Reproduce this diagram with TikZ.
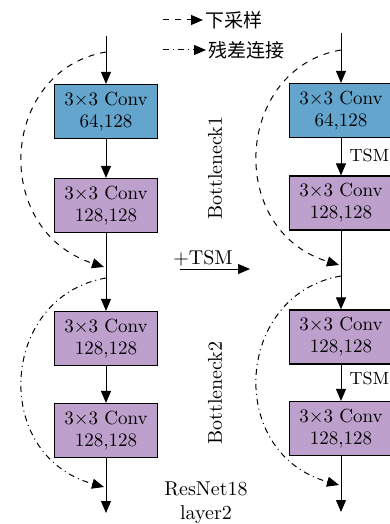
\documentclass[tikz,border=0pt]{standalone}
\usepackage{fontspec}
\newfontfamily\cjk{Noto Sans CJK SC}
\usetikzlibrary{arrows.meta}
\definecolor{convblue}{RGB}{100,165,205}
\definecolor{convpurple}{RGB}{190,160,205}

\begin{document}
\begin{tikzpicture}[x=0.5pt,y=-0.5pt,>={Triangle[length=6pt,width=5pt]},line width=0.5pt,
  conv/.style={draw, line width=0.6pt, minimum width=51.5pt, minimum height=27pt, inner sep=1pt, align=center, font=\fontsize{9.5}{11}\selectfont},
  first/.style={conv, fill=convblue},
  other/.style={conv, fill=convpurple},
  down/.style={dashed, ->},
  skip/.style={dash dot, ->},
  label/.style={inner sep=1pt, font=\fontsize{10}{12}\selectfont},
  tsm/.style={inner sep=0.5pt, anchor=west, font=\fontsize{8.8}{10}\selectfont}]
\useasboundingbox (0,0) rectangle (390,524);
% left: ResNet18 layer2
\coordinate (ltop) at (106,36);
\coordinate (ldown) at (106,52);
\coordinate (lj1) at (106,267);
\coordinate (lres) at (106,278);
\coordinate (lj2) at (106,487);
\coordinate (lend) at (106,513);
\node[first] (la) at (106,111.5) {3×3 Conv\\64,128};
\node[other] (lb) at (106,205.5) {3×3 Conv\\128,128};
\node[other] (lc) at (106,338.5) {3×3 Conv\\128,128};
\node[other] (ld) at (106,430.5) {3×3 Conv\\128,128};
\draw[->] (ltop) -- (la);
\draw[->] (la) -- (lb);
\draw[->] (lb) -- (lc);
\draw[->] (lc) -- (ld);
\draw[->] (ld) -- (lend);
\draw[down] (ldown) .. controls (0,70) and (-10,230) .. ([xshift=-1]lj1);
\draw[skip] (lres) .. controls (0,296) and (-10,455) .. ([xshift=-1]lj2);
% right: with TSM
\coordinate (rtop) at (341,33);
\coordinate (rdown) at (341,50);
\coordinate (rj1) at (341,265);
\coordinate (rres) at (341,276);
\coordinate (rj2) at (341,485);
\coordinate (rend) at (341,512);
\node[first] (ra) at (341,110.5) {3×3 Conv\\64,128};
\node[other] (rb) at (341,203) {3×3 Conv\\128,128};
\node[other] (rc) at (341,337) {3×3 Conv\\128,128};
\node[other] (rd) at (341,428.5) {3×3 Conv\\128,128};
\draw[->] (rtop) -- (ra);
\draw[->] (ra) -- (rb);
\draw[->] (rb) -- (rc);
\draw[->] (rc) -- (rd);
\draw[->] (rd) -- (rend);
\draw[down] (rdown) .. controls (235,68) and (225,230) .. ([xshift=-1]rj1);
\draw[skip] (rres) .. controls (235,294) and (225,453) .. ([xshift=-1]rj2);
\node[tsm] (rtsma) at (348,155) {TSM};
\node[tsm] (rtsmb) at (348,378) {TSM};
% labels
\node[label, rotate=90] (bna) at (215,168) {Bottleneck1};
\node[label, rotate=90] (bnb) at (215,393) {Bottleneck2};
\node[label, align=center] (resnet) at (206,503) {ResNet18\\layer2};
\node[label] (plus) at (203,258) {+TSM};
\coordinate (tsmfrom) at (180,269);
\coordinate (tsmto) at (250,269);
\draw[->] (tsmfrom) -- (tsmto);
% legend
\coordinate (lga) at (163,20);
\coordinate (lgb) at (163,50);
\node[label, anchor=west, font=\cjk\fontsize{9.5}{11}\selectfont] (lgdown) at (203,20) {下采样};
\node[label, anchor=west, font=\cjk\fontsize{9.5}{11}\selectfont] (lgskip) at (206,50) {残差连接};
\draw[down] (lga) -- (lgdown);
\draw[skip] (lgb) -- (lgskip);
\end{tikzpicture}
\end{document}
